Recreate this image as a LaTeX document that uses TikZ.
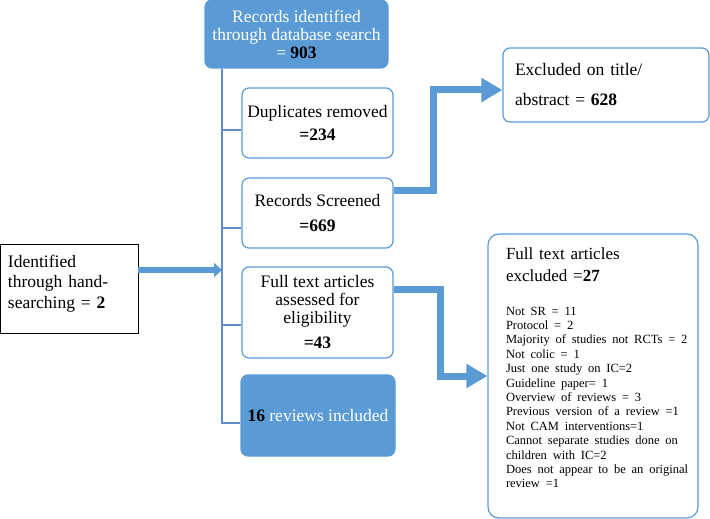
\documentclass[tikz,border=0pt]{standalone}
\usepackage{fontspec}
\setmainfont{Liberation Serif}
\usetikzlibrary{arrows.meta}

\definecolor{flowblue}{RGB}{91,155,213}
\definecolor{linkblue}{RGB}{96,140,200}

\tikzset{
  box/.style={draw=flowblue, line width=1.2pt, rounded corners=7pt, fill=white,
    align=center, inner sep=2pt, font=\fontsize{17.5}{18}\selectfont},
  bluebox/.style={box, fill=flowblue, text=white},
  link/.style={draw=linkblue, line width=1.3pt},
  fatarrow/.style={draw=flowblue, line width=7pt, -{Triangle[length=21pt,width=23pt]}},
  thinarrow/.style={draw=flowblue, line width=6pt, -{Triangle[length=8pt,width=14pt]}},
}

\begin{document}
\begin{tikzpicture}[x=1pt,y=-1pt]

\useasboundingbox (0,0) rectangle (710,519);

% main column
\node[bluebox, minimum width=183pt, minimum height=68pt] (db) at (296.5,34)
  {Records identified\\through database search\\= \textcolor{black}{\textbf{903}}};
\node[box, minimum width=151pt, minimum height=70pt] (dup) at (317.5,123)
  {Duplicates removed\\[5pt]\textbf{=234}};
\node[box, minimum width=151pt, minimum height=70pt] (scr) at (317.5,213)
  {Records Screened\\[7pt]\textbf{=669}};
\node[box, minimum width=151pt, minimum height=91pt] (full) at (317.5,312.5)
  {Full text articles\\assessed for\\eligibility\\[7pt]\textbf{=43}};
\node[bluebox, minimum width=154pt, minimum height=81pt] (incl) at (318,415.5)
  {\textcolor{black}{\textbf{16}} reviews included};

% hand searching
\node[box, draw=black, line width=0.9pt, rounded corners=0pt, align=left,
  text width=122pt, inner xsep=8pt, minimum height=89pt,
  font=\fontsize{17.5}{20.5}\selectfont] (hand) at (69,288.5)
  {\begin{minipage}[t]{122pt}Identified\\through hand-\\searching = \textbf{2}\par
   \kern10pt\end{minipage}};

% exclusions
\node[box, align=left, text width=182pt, inner xsep=12pt, minimum height=74pt,
  font=\fontsize{17.5}{30}\selectfont] (excl1) at (606,85)
  {Excluded on title/\\abstract = \textbf{628}};
\node[box, align=left, rounded corners=11pt, text width=196pt, inner xsep=7pt,
  minimum height=284pt] (excl2) at (593,376)
  {\hspace*{11pt}\begin{minipage}[t]{185pt}\raggedright
   {\fontsize{17}{22}\selectfont Full text articles\\excluded =\textbf{27}\par}
   \vspace{19pt}
   {\fontsize{12.5}{14.4}\selectfont Not SR = 11\\
   Protocol = 2\\
   Majority of studies not RCTs = 2\\
   Not colic = 1\\
   Just one study on IC=2\\
   Guideline paper= 1\\
   Overview of reviews = 3\\
   Previous version of a review =1\\
   Not CAM interventions=1\\
   Cannot separate studies done on\\
   children with IC=2\\
   Does not appear to be an original\\
   review =1\par}
   \kern16pt
   \end{minipage}};

% spine and ticks
\coordinate (t1) at (222,130);
\coordinate (t2) at (222,228);
\coordinate (t3) at (222,325);
\coordinate (t4) at (222,423);
\draw[link] (db.south -| t1) -- (t4) -- (t4 -| incl.west);
\foreach \t/\b in {t1/dup, t2/scr, t3/full}
  \draw[link] (\t) -- (\t -| \b.west);

% arrows
\coordinate (h) at ([yshift=18.5pt]hand.east);
\draw[thinarrow] (h) -- (h -| t1);

\coordinate (a1) at ([yshift=23pt]scr.east);
\draw[fatarrow] (a1) -- ++(40,0) |- ([yshift=-5pt]excl1.west);

\coordinate (a2) at ([yshift=23pt]full.east);
\draw[fatarrow] (a2) -- ++(47,0) |- (excl2.west);

\end{tikzpicture}
\end{document}
